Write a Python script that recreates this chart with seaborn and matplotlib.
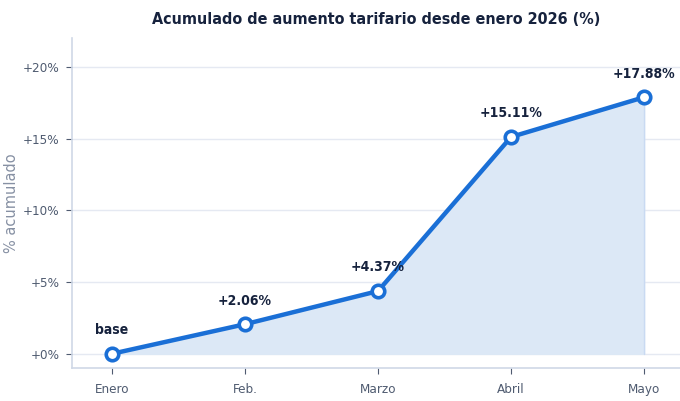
import matplotlib
matplotlib.use("Agg")
import matplotlib.pyplot as plt
import seaborn as sns
import pandas as pd

meses = ["Enero", "Feb.", "Marzo", "Abril", "Mayo"]
acumulado = [0.0, 2.06, 4.37, 15.11, 17.88]
etiquetas = ["base", "+2.06%", "+4.37%", "+15.11%", "+17.88%"]
yticks = [0, 5, 10, 15, 20]

sns.set_theme(style="whitegrid")
plt.rcParams['font.family'] = ['DejaVu Sans']

azul = "#1a6fd6"
oscuro = "#16223d"
gris = "#4f5b70"

df = pd.DataFrame({"mes": meses, "valor": acumulado, "x": range(len(meses))})

fig, ax = plt.subplots(figsize=(6.8, 4.01), dpi=100)
fig.subplots_adjust(left=0.106, right=1.0, top=0.905, bottom=0.082)

ax.fill_between(df["x"], 0, df["valor"], color="#dce8f6", zorder=1)
ax.plot([df["x"].iloc[-1]] * 2, [0, df["valor"].iloc[-1]], color="#c9daf2", lw=1, zorder=1)
sns.lineplot(data=df, x="x", y="valor", ax=ax, color=azul, lw=3.2, zorder=3,
             marker="o", markersize=9, markerfacecolor="white",
             markeredgecolor=azul, markeredgewidth=2.6)

for xi, yi, t in zip(df["x"], df["valor"], etiquetas):
    ax.annotate(t, (xi, yi), xytext=(0, 12), textcoords="offset points",
                ha="center", va="bottom", fontsize=10, fontweight="bold",
                fontstretch="condensed", color=oscuro, zorder=4)

ax.set_xlim(-0.3, 4.27)
ax.set_ylim(-1, 22)
ax.set_xticks(df["x"])
ax.set_xticklabels(meses)
ax.set_yticks(yticks)
ax.set_yticklabels([f"+{v}%" for v in yticks])
ax.grid(axis="x", visible=False)
ax.grid(axis="y", color="#e5e9f2", lw=1)
for lbl in ax.get_xticklabels() + ax.get_yticklabels():
    lbl.set_fontstretch("condensed")
    lbl.set_fontsize(9.6)
    lbl.set_color(gris)
ax.tick_params(axis="both", length=4, color=gris, width=0.8, bottom=True, left=True)
ax.tick_params(axis="x", pad=7)
ax.tick_params(axis="y", pad=5)
ax.set_xlabel("")
ax.set_ylabel("% acumulado", fontsize=10.5, color="#8690a3", labelpad=3)
for s in ["top", "right"]:
    ax.spines[s].set_visible(False)
for s in ["left", "bottom"]:
    ax.spines[s].set_color("#cfd8e6")
    ax.spines[s].set_linewidth(1.2)

ax.set_title("Acumulado de aumento tarifario desde enero 2026 (%)", fontsize=11.5,
             fontweight="bold", fontstretch="condensed", color=oscuro, pad=10)

fig.savefig("out.png", dpi=100)
